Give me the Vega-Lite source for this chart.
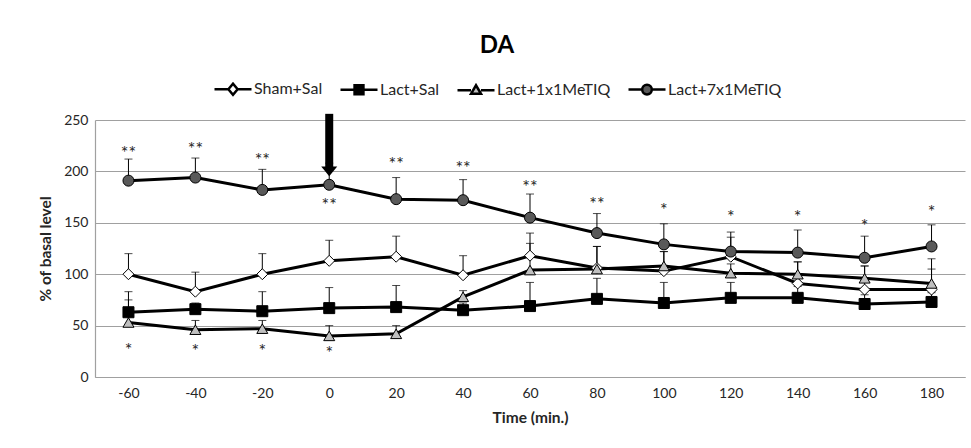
{
  "$schema": "https://vega.github.io/schema/vega-lite/v6.json",
  "width": 870,
  "height": 257,
  "autosize": {"type": "none"},
  "padding": {"left": 95, "top": 120, "right": 6, "bottom": 71},
  "background": "white",
  "config": {
    "view": {"stroke": null},
    "font": "Lato",
    "axis": {"labelFont": "Lato", "labelFontSize": 14, "labelColor": "#262626", "titleFont": "Lato", "titleFontSize": 15.5, "titleFontWeight": "bold", "titleColor": "#262626", "ticks": false, "domainColor": "#a0a0a0", "gridColor": "#a0a0a0", "gridWidth": 1.2, "domainWidth": 1.2}
  },
  "title": {"text": "DA", "font": "Lato", "fontSize": 24, "fontWeight": "bold", "color": "#000000", "anchor": "middle", "frame": "group", "dx": -33, "offset": 11},
  "datasets": {
    "series": [
      {"series": "Sham+Sal", "time": -60, "value": 100, "err": 120},
      {"series": "Sham+Sal", "time": -40, "value": 83, "err": 102},
      {"series": "Sham+Sal", "time": -20, "value": 100, "err": 120},
      {"series": "Sham+Sal", "time": 0, "value": 113, "err": 133},
      {"series": "Sham+Sal", "time": 20, "value": 117, "err": 137},
      {"series": "Sham+Sal", "time": 40, "value": 99, "err": 118},
      {"series": "Sham+Sal", "time": 60, "value": 118, "err": 140},
      {"series": "Sham+Sal", "time": 80, "value": 106, "err": 127},
      {"series": "Sham+Sal", "time": 100, "value": 103, "err": 122},
      {"series": "Sham+Sal", "time": 120, "value": 117, "err": 136},
      {"series": "Sham+Sal", "time": 140, "value": 91, "err": 112},
      {"series": "Sham+Sal", "time": 160, "value": 85, "err": 108},
      {"series": "Sham+Sal", "time": 180, "value": 85, "err": 105},
      {"series": "Lact+Sal", "time": -60, "value": 63, "err": 75},
      {"series": "Lact+Sal", "time": -40, "value": 66, "err": 72},
      {"series": "Lact+Sal", "time": -20, "value": 64, "err": 83},
      {"series": "Lact+Sal", "time": 0, "value": 67, "err": 87},
      {"series": "Lact+Sal", "time": 20, "value": 68, "err": 89},
      {"series": "Lact+Sal", "time": 40, "value": 65, "err": 72},
      {"series": "Lact+Sal", "time": 60, "value": 69, "err": 92},
      {"series": "Lact+Sal", "time": 80, "value": 76, "err": 96},
      {"series": "Lact+Sal", "time": 100, "value": 72, "err": 92},
      {"series": "Lact+Sal", "time": 120, "value": 77, "err": 92},
      {"series": "Lact+Sal", "time": 140, "value": 77, "err": 88},
      {"series": "Lact+Sal", "time": 160, "value": 71, "err": 80},
      {"series": "Lact+Sal", "time": 180, "value": 73, "err": 82},
      {"series": "Lact+1x1MeTIQ", "time": -60, "value": 53, "err": 83},
      {"series": "Lact+1x1MeTIQ", "time": -40, "value": 46, "err": 55},
      {"series": "Lact+1x1MeTIQ", "time": -20, "value": 47, "err": 55},
      {"series": "Lact+1x1MeTIQ", "time": 0, "value": 40, "err": 50},
      {"series": "Lact+1x1MeTIQ", "time": 20, "value": 42, "err": 50},
      {"series": "Lact+1x1MeTIQ", "time": 40, "value": 78, "err": 84},
      {"series": "Lact+1x1MeTIQ", "time": 60, "value": 104, "err": 130},
      {"series": "Lact+1x1MeTIQ", "time": 80, "value": 105, "err": 127},
      {"series": "Lact+1x1MeTIQ", "time": 100, "value": 108, "err": 122},
      {"series": "Lact+1x1MeTIQ", "time": 120, "value": 101, "err": 110},
      {"series": "Lact+1x1MeTIQ", "time": 140, "value": 100, "err": 112},
      {"series": "Lact+1x1MeTIQ", "time": 160, "value": 96, "err": 108},
      {"series": "Lact+1x1MeTIQ", "time": 180, "value": 91, "err": 115},
      {"series": "Lact+7x1MeTIQ", "time": -60, "value": 191, "err": 212},
      {"series": "Lact+7x1MeTIQ", "time": -40, "value": 194, "err": 213},
      {"series": "Lact+7x1MeTIQ", "time": -20, "value": 182, "err": 202},
      {"series": "Lact+7x1MeTIQ", "time": 0, "value": 187, "err": 208},
      {"series": "Lact+7x1MeTIQ", "time": 20, "value": 173, "err": 194},
      {"series": "Lact+7x1MeTIQ", "time": 40, "value": 172, "err": 192},
      {"series": "Lact+7x1MeTIQ", "time": 60, "value": 155, "err": 178},
      {"series": "Lact+7x1MeTIQ", "time": 80, "value": 140, "err": 159},
      {"series": "Lact+7x1MeTIQ", "time": 100, "value": 129, "err": 149},
      {"series": "Lact+7x1MeTIQ", "time": 120, "value": 122, "err": 141},
      {"series": "Lact+7x1MeTIQ", "time": 140, "value": 121, "err": 143},
      {"series": "Lact+7x1MeTIQ", "time": 160, "value": 116, "err": 137},
      {"series": "Lact+7x1MeTIQ", "time": 180, "value": 127, "err": 148}
    ],
    "stars": [
      {"time": -60, "y": 221, "label": "**"},
      {"time": -40, "y": 225, "label": "**"},
      {"time": -20, "y": 214, "label": "**"},
      {"time": 0, "y": 170, "label": "**"},
      {"time": 20, "y": 210, "label": "**"},
      {"time": 40, "y": 206, "label": "**"},
      {"time": 60, "y": 188, "label": "**"},
      {"time": 80, "y": 171, "label": "**"},
      {"time": 100, "y": 165, "label": "*"},
      {"time": 120, "y": 159, "label": "*"},
      {"time": 140, "y": 159, "label": "*"},
      {"time": 160, "y": 150, "label": "*"},
      {"time": 180, "y": 163, "label": "*"},
      {"time": -60, "y": 29, "label": "*"},
      {"time": -40, "y": 28, "label": "*"},
      {"time": -20, "y": 28, "label": "*"},
      {"time": 0, "y": 26, "label": "*"}
    ],
    "arrow": [{"time": 0, "top": 256, "bottom": 204, "head": 200}],
    "legend": [
      {"series": "Sham+Sal"},
      {"series": "Lact+Sal"},
      {"series": "Lact+1x1MeTIQ"},
      {"series": "Lact+7x1MeTIQ"}
    ]
  },
  "encoding": {
    "x": {
      "field": "time", "type": "ordinal",
      "scale": {"type": "point", "padding": 0.5, "domain": [-60, -40, -20, 0, 20, 40, 60, 80, 100, 120, 140, 160, 180]},
      "axis": {"title": "Time (min.)", "labelAngle": 0, "labelPadding": 9, "titlePadding": 10, "grid": false}
    }
  },
  "layer": [
    {
      "data": {"name": "series"},
      "mark": {"type": "rule", "color": "#000000", "strokeWidth": 1},
      "encoding": {
        "y": {"field": "value", "type": "quantitative", "scale": {"domain": [0, 250], "nice": false}, "axis": {"title": "% of basal level", "values": [0, 50, 100, 150, 200, 250], "labelPadding": 7, "titlePadding": 10, "grid": true}},
        "y2": {"field": "err"}
      }
    },
    {
      "data": {"name": "series"},
      "mark": {"type": "tick", "orient": "horizontal", "color": "#000000", "thickness": 1, "size": 8},
      "encoding": {
        "y": {"field": "err", "type": "quantitative"}
      }
    },
    {
      "data": {"name": "series"},
      "mark": {"type": "line", "color": "#000000", "strokeWidth": 3},
      "encoding": {
        "y": {"field": "value", "type": "quantitative"},
        "detail": {"field": "series"}
      }
    },
    {
      "data": {"name": "series"},
      "mark": {"type": "point", "filled": true, "stroke": "#000000", "strokeWidth": 1, "size": 121, "opacity": 1},
      "encoding": {
        "y": {"field": "value", "type": "quantitative"},
        "shape": {"field": "series", "type": "nominal", "scale": {"domain": ["Sham+Sal", "Lact+Sal", "Lact+1x1MeTIQ", "Lact+7x1MeTIQ"], "range": ["diamond", "square", "triangle-up", "circle"]}, "legend": null},
        "fill": {"field": "series", "type": "nominal", "scale": {"domain": ["Sham+Sal", "Lact+Sal", "Lact+1x1MeTIQ", "Lact+7x1MeTIQ"], "range": ["#ffffff", "#000000", "#bfbfbf", "#595959"]}, "legend": null}
      }
    },
    {
      "data": {"name": "stars"},
      "mark": {"type": "text", "font": "Lato", "fontSize": 18, "color": "#262626", "baseline": "middle", "dy": 4},
      "encoding": {
        "y": {"field": "y", "type": "quantitative"},
        "text": {"field": "label"}
      }
    },
    {
      "data": {"name": "arrow"},
      "mark": {"type": "rule", "color": "#000000", "strokeWidth": 8, "strokeCap": "butt", "clip": false},
      "encoding": {
        "y": {"field": "top", "type": "quantitative"},
        "y2": {"field": "bottom"}
      }
    },
    {
      "data": {"name": "arrow"},
      "mark": {"type": "point", "shape": "M-1,-0.6L1,-0.6L0,0.6Z", "size": 256, "filled": true, "color": "#000000", "opacity": 1, "clip": false},
      "encoding": {
        "y": {"field": "head", "type": "quantitative"}
      }
    },
    {
      "data": {"name": "legend"},
      "mark": {"type": "point", "filled": true, "stroke": "#000000", "size": 1369, "opacity": 0},
      "encoding": {
        "x": {"value": 0},
        "y": {"value": 0},
        "shape": {"field": "series", "type": "nominal", "scale": {"domain": ["Sham+Sal", "Lact+Sal", "Lact+1x1MeTIQ", "Lact+7x1MeTIQ"], "range": [
          "M-1,0H-0.25M0.25,0H1M-0.25,0L0,-0.3L0.25,0L0,0.3Z",
          "M-1,0H-0.24M0.24,0H1M-0.24,-0.24H0.24V0.24H-0.24Z",
          "M-1,0H-0.27M0.27,0H1M-0.27,0.2L0,-0.26L0.27,0.2Z",
          "M-1,0H-0.26M0.26,0H1M0.26,0A0.26,0.26,0,1,1,-0.26,0A0.26,0.26,0,1,1,0.26,0Z"
        ]}, "legend": {"title": null, "orient": "none", "direction": "horizontal", "legendX": 118, "legendY": -51, "labelFont": "Lato", "labelFontSize": 16, "labelColor": "#262626", "labelOffset": 1, "columnPadding": 12, "symbolSize": 1369, "symbolStrokeWidth": 2.5, "symbolStrokeColor": "#000000", "symbolOpacity": 1,
          "encode": {"symbols": {"update": {"stroke": {"value": "#000000"}, "strokeWidth": {"value": 2.5}, "strokeOpacity": {"value": 1}, "fillOpacity": {"value": 1}, "opacity": {"value": 1}, "size": {"value": 1369}}}}}},
        "fill": {"field": "series", "type": "nominal", "scale": {"domain": ["Sham+Sal", "Lact+Sal", "Lact+1x1MeTIQ", "Lact+7x1MeTIQ"], "range": ["#ffffff", "#000000", "#bfbfbf", "#595959"]}, "legend": {"title": null, "orient": "none", "direction": "horizontal", "legendX": 118, "legendY": -51, "labelFont": "Lato", "labelFontSize": 16, "labelColor": "#262626", "labelOffset": 1, "columnPadding": 12, "symbolSize": 1369, "symbolStrokeWidth": 2.5, "symbolStrokeColor": "#000000", "symbolOpacity": 1,
          "encode": {"symbols": {"update": {"stroke": {"value": "#000000"}, "strokeWidth": {"value": 2.5}, "strokeOpacity": {"value": 1}, "fillOpacity": {"value": 1}, "opacity": {"value": 1}, "size": {"value": 1369}}}}}}
      }
    }
  ],
  "resolve": {"scale": {"shape": "independent", "fill": "independent"}}
}
